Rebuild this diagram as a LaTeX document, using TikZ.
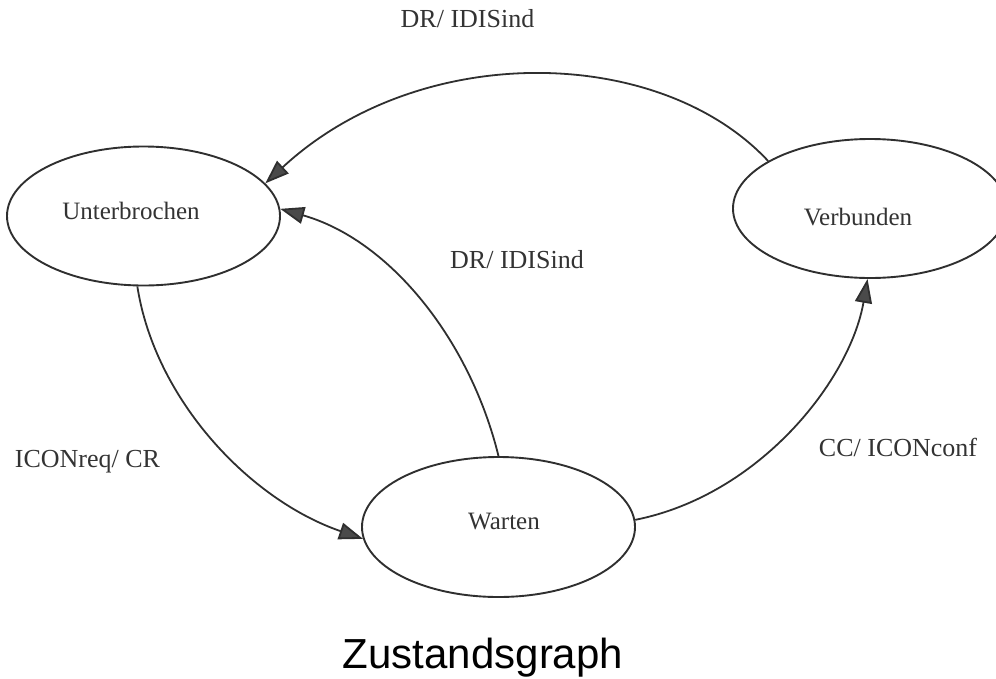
\documentclass[tikz,border=0pt]{standalone}
\usepackage{fontspec}
\setmainfont{Liberation Serif}
\newfontfamily\captionfont{Liberation Sans}
\usetikzlibrary{shapes.geometric,arrows.meta}

\definecolor{inkline}{HTML}{2F2F2F}
\definecolor{inktext}{HTML}{333333}
\definecolor{headfill}{HTML}{4A4A4A}

\tikzset{
  state/.style={draw=inkline, line width=1.9pt, ellipse, inner sep=0pt,
    minimum width=273pt, minimum height=139pt},
  statetext/.style={text=inktext, font=\fontsize{25}{30}\selectfont},
  trans/.style={draw=inkline, line width=1.8pt,
    -{Triangle[length=24pt,width=17pt,fill=headfill]}},
  translabel/.style={text=inktext, font=\fontsize{26}{31}\selectfont,
    anchor=base, inner sep=0pt},
}

\begin{document}
\begin{tikzpicture}[x=1pt,y=-1pt]
  \useasboundingbox (0,0) rectangle (996,678);
  \clip (0,0) rectangle (996,678);

  % states
  \node[state, label={[statetext, name=tU, xshift=-12.5pt, yshift=5.5pt]center:Unterbrochen}]
    (U) at (143.5,216) {};
  \node[state, minimum width=274pt, label={[statetext, name=tV, xshift=-12pt, yshift=-8.5pt]center:Verbunden}]
    (V) at (870,208.5) {};
  \node[state, minimum height=140pt, label={[statetext, name=tW, xshift=5.5pt, yshift=5.5pt]center:Warten}]
    (W) at (498.5,527) {};

  % transitions
  \draw[trans] (V.155.7) .. controls (660,45) and (420,40) .. (U.15.6);
  \draw[trans] (W.90) .. controls (470,340) and (390,240) .. (U.3.8);
  \draw[trans] (U.265) .. controls (155,400) and (250,500) .. (W.185);
  \draw[trans] (W.3) .. controls (760,495) and (850,380) .. (V.268);

  % transition labels
  \node[translabel] (l1) at (467.5,27) {DR/ IDISind};
  \node[translabel] (l2) at (517,268) {DR/ IDISind};
  \node[translabel] (l3) at (87.5,467) {ICONreq/ CR};
  \node[translabel] (l4) at (898,456) {CC/ ICONconf};

  % caption
  \node[anchor=base, inner sep=0pt, font=\captionfont\fontsize{42}{50}\selectfont]
    (cap) at (483,668) {Zustandsgraph};
\end{tikzpicture}
\end{document}
